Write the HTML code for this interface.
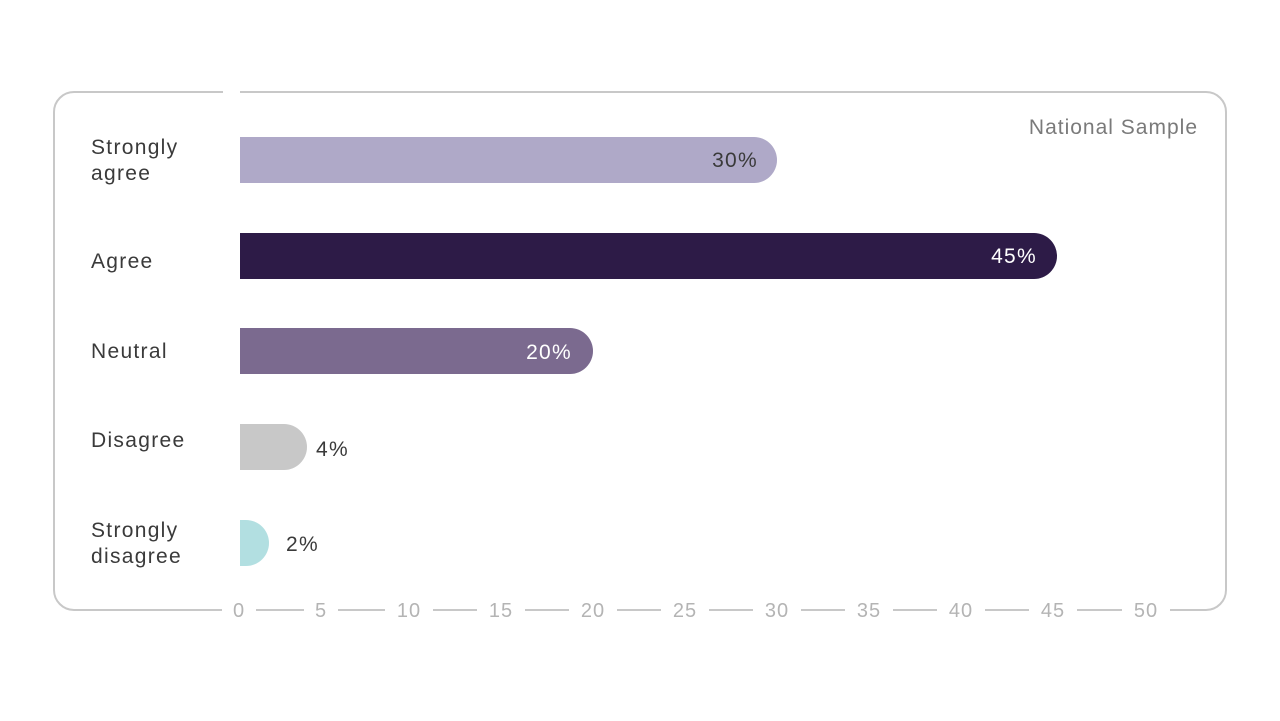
<!DOCTYPE html>
<html><head><style>
html,body{margin:0;padding:0;background:#fff;}
</style></head><body>
<svg width="1280" height="721" xmlns="http://www.w3.org/2000/svg" style="display:block;font-family:'Liberation Sans',sans-serif">
<rect x="0" y="0" width="1280" height="721" fill="#fff"/>
<path d="M223 92 H74 A20 20 0 0 0 54 112 V590 A20 20 0 0 0 74 610 H1206 A20 20 0 0 0 1226 590 V112 A20 20 0 0 0 1206 92 H240" fill="none" stroke="#c8c8c8" stroke-width="2"/>
<g font-size="20" fill="#b4b4b4" text-anchor="middle" letter-spacing="1">
<rect x="222" y="598" width="34" height="24" fill="#fff"/><text x="239" y="617">0</text>
<rect x="304" y="598" width="34" height="24" fill="#fff"/><text x="321" y="617">5</text>
<rect x="385" y="598" width="48" height="24" fill="#fff"/><text x="409" y="617">10</text>
<rect x="477" y="598" width="48" height="24" fill="#fff"/><text x="501" y="617">15</text>
<rect x="569" y="598" width="48" height="24" fill="#fff"/><text x="593" y="617">20</text>
<rect x="661" y="598" width="48" height="24" fill="#fff"/><text x="685" y="617">25</text>
<rect x="753" y="598" width="48" height="24" fill="#fff"/><text x="777" y="617">30</text>
<rect x="845" y="598" width="48" height="24" fill="#fff"/><text x="869" y="617">35</text>
<rect x="937" y="598" width="48" height="24" fill="#fff"/><text x="961" y="617">40</text>
<rect x="1029" y="598" width="48" height="24" fill="#fff"/><text x="1053" y="617">45</text>
<rect x="1122" y="598" width="48" height="24" fill="#fff"/><text x="1146" y="617">50</text>
</g>
<text x="1198" y="134" font-size="21" fill="#7a7a7a" text-anchor="end" letter-spacing="1">National Sample</text>
<g font-size="21" fill="#3a3a3a" letter-spacing="1.3">
<text x="91" y="154">Strongly</text><text x="91" y="180">agree</text>
<text x="91" y="268">Agree</text>
<text x="91" y="358">Neutral</text>
<text x="91" y="447">Disagree</text>
<text x="91" y="537">Strongly</text><text x="91" y="563">disagree</text>
</g>
<path d="M240 137 H754 A23 23 0 0 1 754 183 H240 Z" fill="#afa9c8"/>
<path d="M240 233 H1034 A23 23 0 0 1 1034 279 H240 Z" fill="#2d1b47"/>
<path d="M240 328 H570 A23 23 0 0 1 570 374 H240 Z" fill="#7b6a8f"/>
<path d="M240 424 H284 A23 23 0 0 1 284 470 H240 Z" fill="#c8c8c8"/>
<path d="M240 520 H246 A23 23 0 0 1 246 566 H240 Z" fill="#b2dfe1"/>
<g font-size="21" letter-spacing="1.3">
<text x="758" y="167" fill="#3a3a3a" text-anchor="end">30%</text>
<text x="1037" y="263" fill="#fff" text-anchor="end">45%</text>
<text x="572" y="359" fill="#fff" text-anchor="end">20%</text>
<text x="316" y="456" fill="#3a3a3a">4%</text>
<text x="286" y="551" fill="#3a3a3a">2%</text>
</g>
</svg>
</body></html>
